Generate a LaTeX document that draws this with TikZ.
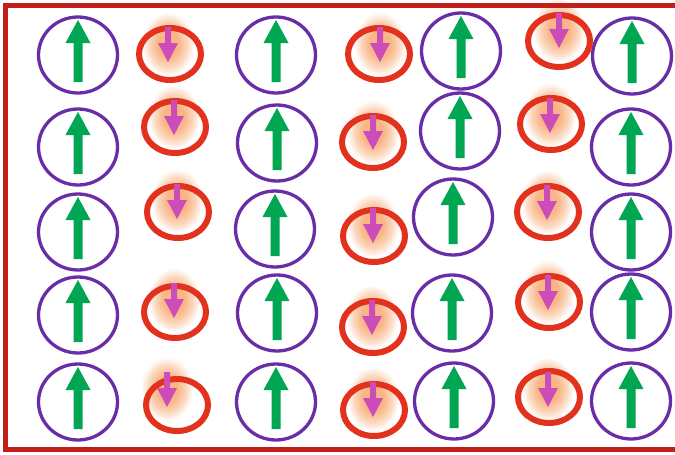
\documentclass[tikz,border=0pt]{standalone}
\definecolor{spinpurple}{HTML}{6A2DA8}
\definecolor{spinred}{HTML}{E2311D}
\definecolor{framered}{HTML}{C21F1A}
\definecolor{upgreen}{HTML}{00A651}
\definecolor{downmag}{HTML}{CC4DBA}
\definecolor{glowc}{HTML}{F9B585}
\pgfdeclareradialshading{glowshade}{\pgfpoint{0bp}{0bp}}{color(0bp)=(glowc); color(10bp)=(glowc); color(18bp)=(glowc!55!white); color(25bp)=(white); color(50bp)=(white)}
\tikzset{
  upring/.style={draw=spinpurple, line width=3.3pt},
  downring/.style={draw=spinred, line width=6pt},
  uparrow/.style={fill=upgreen},
  downarrow/.style={fill=downmag},
  glowspot/.style={shading=glowshade},
  frameline/.style={draw=framered, line width=5pt}
}
\begin{document}
\begin{tikzpicture}[x=1pt,y=-1pt]
\useasboundingbox (0,0) rectangle (675,455);
\fill[white] (0,0) rectangle (675,455);
% glows behind down spins (arrow x / arrow top)
\foreach \ax/\at in {168/27,174/100,177/184,174/283,167/372,
                     380/27,373/115,373/208,372/300,373/382,
                     559/13,550/98,547/185,548/275,548/372}{
  \begin{scope}[shift={(\ax,\at)}]
    \shade[glowspot] (0,17) ellipse [x radius=26pt, y radius=32pt];
  \end{scope}
}
% up spins: purple circles with green arrows
\foreach \cx/\cy in {78/55,78/147,78/232,78/315,78/402,
                     276/55,277/143,275/229,277/313,276/402,
                     461/51,460/131,453/217,452/313,454/401,
                     632/56,631/147,631/232,631/312,631/401}{
  \begin{scope}[shift={(\cx,\cy)}]
    \draw[upring] (0,0) ellipse [x radius=39.5pt, y radius=38pt];
    \fill[uparrow] (-4.5,27) -- (-4.5,-12) -- (-12.5,-12) -- (0,-35) -- (12.5,-12) -- (4.5,-12) -- (4.5,27) -- cycle;
  \end{scope}
}
% down spins: red ellipses
\foreach \cx/\cy in {170/54,175/127,178/212,175/312,177/405,
                     379/54,373/142,374/236,373/327,374/410,
                     559/41,551/124,548/212,549/302,549/397}{
  \draw[downring] (\cx,\cy) ellipse [x radius=31pt, y radius=26pt];
}
% down arrows
\foreach \ax/\at in {168/27,174/100,177/184,174/283,167/372,
                     380/27,373/115,373/208,372/300,373/382,
                     559/13,550/98,547/185,548/275,548/372}{
  \begin{scope}[shift={(\ax,\at)}]
    \fill[downarrow] (-3,0) -- (-3,16) -- (-10,16) -- (0,35) -- (10,16) -- (3,16) -- (3,0) -- cycle;
  \end{scope}
}
% frame (open on the right)
\draw[frameline] (675,5) -- (5.5,5) -- (5.5,449.5) -- (675,449.5);
\end{tikzpicture}
\end{document}
